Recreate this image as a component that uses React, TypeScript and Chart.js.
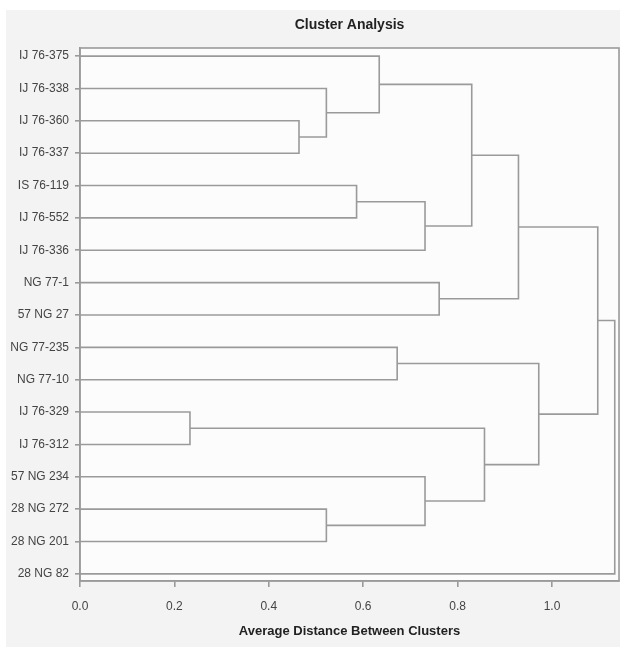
import React, { useEffect, useRef } from "react";
import { Chart, registerables } from "chart.js";

Chart.register(...registerables);

const leafLabels = [
  "IJ 76-375", "IJ 76-338", "IJ 76-360", "IJ 76-337", "IS 76-119", "IJ 76-552",
  "IJ 76-336", "NG 77-1", "57 NG 27", "NG 77-235", "NG 77-10", "IJ 76-329",
  "IJ 76-312", "57 NG 234", "28 NG 272", "28 NG 201", "28 NG 82",
];
// merge table (node ids: leaves 0..16, merges 17..)
const mergeLeft = [11, 2, 1, 14, 4, 0, 9, 21, 13, 7, 22, 17, 27, 23, 29, 31];
const mergeRight = [12, 3, 18, 15, 5, 19, 10, 6, 20, 8, 24, 25, 26, 28, 30, 16];
const mergeHeight = [0.233, 0.464, 0.522, 0.522, 0.586, 0.634, 0.672, 0.731, 0.731, 0.761, 0.83, 0.857, 0.929, 0.972, 1.097, 1.133];
const xTicks = [0, 0.2, 0.4, 0.6, 0.8, 1.0];

const FONT = "'Liberation Sans', Arial, sans-serif";
const LINE = "#9a9a9a";

function buildDatasets() {
  const nodeX: number[] = leafLabels.map(() => 0);
  const nodeY: number[] = leafLabels.map((_, i) => i);
  const sets: any[] = [];
  mergeHeight.forEach((h, k) => {
    const a = mergeLeft[k];
    const b = mergeRight[k];
    sets.push({
      data: [
        { x: nodeX[a], y: nodeY[a] },
        { x: h, y: nodeY[a] },
        { x: h, y: nodeY[b] },
        { x: nodeX[b], y: nodeY[b] },
      ],
      showLine: true,
      borderColor: LINE,
      borderWidth: 1.6,
      pointRadius: 0,
      tension: 0,
      fill: false,
    });
    nodeX.push(h);
    nodeY.push((nodeY[a] + nodeY[b]) / 2);
  });
  return sets;
}

const bgPlugin = {
  id: "bgPlugin",
  beforeDraw(chart: any) {
    const { ctx, width, height, chartArea } = chart;
    ctx.save();
    ctx.fillStyle = "#ffffff";
    ctx.fillRect(0, 0, width, height);
    ctx.fillStyle = "#f3f3f3";
    ctx.fillRect(6, 10, width - 6, height - 10);
    ctx.fillStyle = "#fcfcfc";
    ctx.fillRect(chartArea.left, chartArea.top, chartArea.right - chartArea.left, chartArea.bottom - chartArea.top);
    ctx.restore();
  },
  afterDraw(chart: any) {
    const { ctx, chartArea } = chart;
    ctx.save();
    ctx.strokeStyle = LINE;
    ctx.lineWidth = 1.6;
    ctx.strokeRect(chartArea.left, chartArea.top, chartArea.right - chartArea.left, chartArea.bottom - chartArea.top);
    ctx.restore();
  },
};

export default function App() {
  const ref = useRef<HTMLCanvasElement | null>(null);
  useEffect(() => {
    if (!ref.current) return;
    Chart.defaults.font.family = FONT;
    const chart = new Chart(ref.current, {
      type: "scatter",
      data: { datasets: buildDatasets() },
      options: {
        animation: false,
        responsive: false,
        maintainAspectRatio: false,
        layout: { padding: { top: 0, right: 1, left: 0, bottom: 0 } },
        plugins: {
          legend: { display: false },
          tooltip: { enabled: false },
          title: {
            display: true,
            text: "Cluster Analysis",
            fullSize: false,
            color: "#222222",
            font: { size: 14, weight: "bold", family: FONT },
            padding: { top: 16.6, bottom: 14.6 },
          },
        },
        scales: {
          x: {
            type: "linear",
            min: 0,
            max: 1.142,
            afterBuildTicks: (s: any) => {
              s.ticks = xTicks.map((v) => ({ value: v }));
            },
            afterFit: (s: any) => {
              s.height = 66;
            },
            ticks: {
              color: "#444444",
              font: { size: 12, family: FONT },
              padding: 12,
              callback: (v: any) => Number(v).toFixed(1),
            },
            grid: { drawOnChartArea: false, drawTicks: true, tickLength: 6, color: LINE, lineWidth: 1.6 },
            border: { color: LINE, width: 1.6 },
            title: {
              display: true,
              text: "Average Distance Between Clusters",
              color: "#222222",
              font: { size: 13, weight: "bold", family: FONT },
              padding: { top: 0, bottom: 8 },
            },
          },
          y: {
            type: "linear",
            reverse: true,
            min: -0.25,
            max: 16.22,
            afterBuildTicks: (s: any) => {
              s.ticks = leafLabels.map((_, i) => ({ value: i }));
            },
            afterFit: (s: any) => {
              s.width = 80;
            },
            ticks: {
              autoSkip: false,
              color: "#444444",
              font: { size: 12, family: FONT },
              padding: 6,
              callback: (v: any) => leafLabels[Math.round(Number(v))] ?? "",
            },
            grid: { drawOnChartArea: false, drawTicks: true, tickLength: 5, color: LINE, lineWidth: 1.6 },
            border: { color: LINE, width: 1.6 },
          },
        },
      } as any,
      plugins: [bgPlugin],
    });
    return () => chart.destroy();
  }, []);
  return (
    <div style={{ position: "fixed", left: 0, top: 0, width: 620, height: 647 }}>
      <canvas ref={ref} width={620} height={647} />
    </div>
  );
}
